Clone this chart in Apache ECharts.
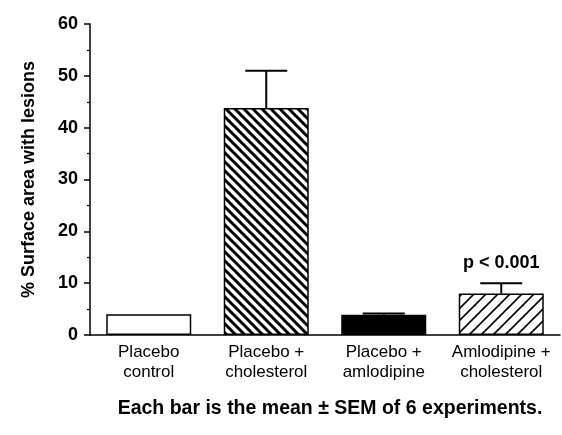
<!DOCTYPE html>
<html>
<head>
<meta charset="utf-8">
<script src="https://cdn.jsdelivr.net/npm/echarts@6/dist/echarts.min.js"></script>
<style>html,body{margin:0;padding:0;background:#fff}#c{width:562px;height:435px}</style>
</head>
<body>
<div id="c"></div>
<script>
var categories = ['Placebo\ncontrol', 'Placebo +\ncholesterol', 'Placebo +\namlodipine', 'Amlodipine +\ncholesterol'];
var means = [4.0, 43.8, 3.9, 8.0];
var sems = [0, 7.2, 0.25, 2.0];
var yTicks = [0, 10, 20, 30, 40, 50, 60];
var annotations = ['', '', '', 'p < 0.001'];

function hatch(size, lw, dir) {
  var c = document.createElement('canvas');
  c.width = size; c.height = size;
  var g = c.getContext('2d');
  g.fillStyle = '#fff'; g.fillRect(0, 0, size, size);
  g.strokeStyle = '#000'; g.lineWidth = lw; g.lineCap = 'square';
  g.beginPath();
  if (dir === 'back') {
    g.moveTo(-size, 0); g.lineTo(size, 2 * size);
    g.moveTo(0, 0); g.lineTo(size, size);
    g.moveTo(0, -size); g.lineTo(2 * size, size);
  } else {
    g.moveTo(0, size); g.lineTo(size, 0);
    g.moveTo(-size, size); g.lineTo(size, -size);
    g.moveTo(0, 2 * size); g.lineTo(2 * size, 0);
  }
  g.stroke();
  return c;
}
var fills = [
  '#ffffff',
  { image: hatch(9, 3, 'back'), repeat: 'repeat' },
  '#000000',
  { image: hatch(12, 1.6, 'fwd'), repeat: 'repeat' }
];

var chart = echarts.init(document.getElementById('c'), null, { renderer: 'canvas' });
var font = '"Liberation Sans", Arial, Helvetica, sans-serif';
chart.setOption({
  animation: false,
  grid: { left: 90, right: 2, top: 24, bottom: 100, containLabel: false },
  xAxis: {
    type: 'category',
    data: categories,
    axisLine: { lineStyle: { color: '#000', width: 1.5 } },
    axisTick: { show: false },
    axisLabel: { color: '#000', fontFamily: font, fontSize: 17, lineHeight: 20, margin: 7, interval: 0 }
  },
  yAxis: {
    type: 'value',
    min: yTicks[0], max: yTicks[yTicks.length - 1], interval: 10,
    name: '% Surface area with lesions',
    nameLocation: 'middle', nameGap: 52,
    nameTextStyle: { color: '#000', fontFamily: font, fontSize: 18, fontWeight: 'bold' },
    axisLine: { show: true, lineStyle: { color: '#000', width: 1.5 } },
    axisTick: { show: true, length: 6, lineStyle: { color: '#000', width: 1.5 } },
    minorTick: { show: true, splitNumber: 2, length: 3, lineStyle: { color: '#000', width: 1.2 } },
    splitLine: { show: false },
    axisLabel: { color: '#000', fontFamily: font, fontSize: 18, fontWeight: 'bold', margin: 12 }
  },
  series: [
    {
      type: 'bar',
      barWidth: 85,
      data: means.map(function (v, i) {
        return { value: v, itemStyle: { color: fills[i], borderColor: '#000', borderWidth: 1.5 } };
      }),
      z: 2
    },
    {
      type: 'custom',
      z: 3,
      data: means.map(function (v, i) { return [i, v, v + sems[i]]; }),
      renderItem: function (params, api) {
        var i = api.value(0);
        var p0 = api.coord([i, api.value(1)]);
        var p1 = api.coord([i, api.value(2)]);
        var half = 21;
        var children = [];
        if (api.value(2) > api.value(1)) {
          children.push({ type: 'line', shape: { x1: p0[0], y1: p0[1], x2: p1[0], y2: p1[1] }, style: { stroke: '#000', lineWidth: 2 } });
          children.push({ type: 'line', shape: { x1: p1[0] - half, y1: p1[1], x2: p1[0] + half, y2: p1[1] }, style: { stroke: '#000', lineWidth: 2 } });
        }
        var t = annotations[params.dataIndex];
        if (t) {
          children.push({ type: 'text', style: { x: p1[0], y: p1[1] - 11, text: t, textAlign: 'center', textVerticalAlign: 'bottom', fill: '#000', font: 'bold 18px ' + font } });
        }
        return { type: 'group', children: children };
      }
    }
  ],
  graphic: [{
    type: 'text', x: 330, y: 399,
    style: { text: 'Each bar is the mean \u00b1 SEM of 6 experiments.', fill: '#000', font: 'bold 19.5px ' + font, textAlign: 'center', textVerticalAlign: 'top' }
  }]
});
</script>
</body>
</html>
